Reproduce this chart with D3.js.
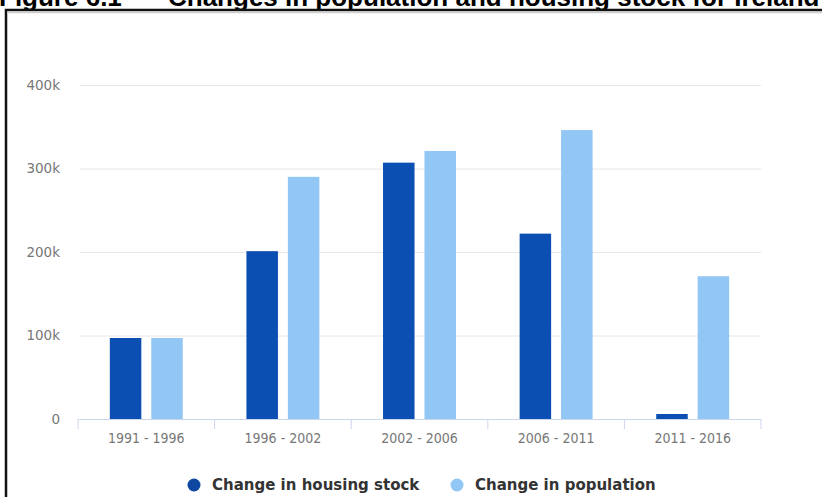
<!DOCTYPE html>
<html>
<head>
<meta charset="utf-8">
<script src="https://cdn.jsdelivr.net/npm/d3@7"></script>
<style>
  body { margin: 0; background: #fff; }
  svg { display: block; }
</style>
</head>
<body>
<svg id="drawing_region"></svg>
<script>
// periods on the x axis
const categories = ['1991 - 1996', '1996 - 2002', '2002 - 2006', '2006 - 2011', '2011 - 2016'];
const series = ['Change in housing stock', 'Change in population'];
// values
const housing = [97000, 201000, 307000, 222000, 6000];
const population = [97000, 290000, 321000, 346000, 171000];
const yticks = [0, 100000, 200000, 300000, 400000];
const yticklabels = ['0', '100k', '200k', '300k', '400k'];
const colors = ['#0b4fb3', '#92c6f4'];

const width = 822, height = 497;
const margin = {top: 85, right: 61, bottom: 78, left: 78};

const svg = d3.select('#drawing_region')
    .attr('width', width)
    .attr('height', height);

// figure title, cut off at the top of the picture
const title = svg.append('g')
    .attr('font-family', 'Liberation Sans, Arial, sans-serif')
    .attr('font-weight', 'bold')
    .attr('font-size', 26)
    .attr('fill', '#000');
title.append('text')
    .attr('x', -1).attr('y', 6)
    .text('Figure 6.1');
title.append('text')
    .attr('x', 168).attr('y', 6)
    .text('Changes in population and housing stock for Ireland');

// frame
svg.append('rect')
    .attr('x', 6).attr('y', 10)
    .attr('width', 840).attr('height', 520)
    .attr('fill', 'none')
    .attr('stroke', '#111')
    .attr('stroke-width', 2.5);
svg.append('line')
    .attr('x1', 7).attr('x2', 822).attr('y1', 12.5).attr('y2', 12.5)
    .attr('stroke', '#cfcfcf').attr('stroke-width', 1.5);

const chart = svg.append('g')
    .attr('transform', `translate(${margin.left}, ${margin.top})`);

const inner_width = width - margin.left - margin.right;
const inner_height = 419 - margin.top;

const xscale = d3.scaleBand()
    .domain(categories)
    .range([0, inner_width]);

const xinner = d3.scaleBand()
    .domain(series)
    .range([xscale.bandwidth() * 0.233, xscale.bandwidth() * 0.767])
    .paddingInner(0.24);

const yscale = d3.scaleLinear()
    .domain([0, 400000])
    .range([inner_height, 0]);

// grid + y labels
const yaxis = d3.axisLeft(yscale)
    .tickValues(yticks)
    .tickFormat((d, i) => yticklabels[i])
    .tickSize(-inner_width)
    .tickPadding(18);

const yaxis_group = chart.append('g').call(yaxis);
yaxis_group.select('.domain').remove();
yaxis_group.selectAll('.tick line')
    .attr('x1', 2)
    .attr('stroke', '#e6e6e6');
yaxis_group.selectAll('.tick text')
    .attr('font-family', 'DejaVu Sans, sans-serif')
    .attr('font-size', 13.5)
    .attr('fill', '#777');

// bars
const groups = chart.selectAll('.grp')
    .data(categories)
    .enter()
    .append('g')
    .attr('transform', d => `translate(${xscale(d)},0)`);

groups.selectAll('rect')
    .data((d, i) => [housing[i], population[i]].map((v, j) => ({s: series[j], v: v, j: j})))
    .enter()
    .append('rect')
    .attr('x', d => xinner(d.s))
    .attr('y', d => yscale(d.v))
    .attr('width', xinner.bandwidth())
    .attr('height', d => inner_height - yscale(d.v))
    .attr('fill', d => colors[d.j]);

// x axis
const xaxis = d3.axisBottom(xscale)
    .tickSize(0)
    .tickPadding(14);

const xaxis_group = chart.append('g')
    .attr('transform', `translate(0, ${inner_height})`)
    .call(xaxis);
xaxis_group.select('.domain')
    .attr('stroke', '#ccd6eb');
xaxis_group.selectAll('.tick text')
    .attr('font-family', 'Liberation Sans Narrow, DejaVu Sans Condensed, sans-serif')
    .attr('font-size', 14)
    .attr('fill', '#777');

// tick marks at band edges
const edges = categories.map(c => xscale(c)).concat([inner_width]);
xaxis_group.selectAll('.edge')
    .data(edges)
    .enter()
    .append('line')
    .attr('x1', d => d).attr('x2', d => d)
    .attr('y1', 0).attr('y2', 10)
    .attr('stroke', '#ccd6eb');

// legend
const legend_x = [194, 457];
const legend = svg.selectAll('.legend')
    .data(series)
    .enter()
    .append('g')
    .attr('transform', (d, i) => `translate(${legend_x[i]}, 485)`);

legend.append('circle')
    .attr('r', 6.5)
    .attr('fill', (d, i) => i == 0 ? '#0d47a1' : colors[1]);

legend.append('text')
    .attr('x', 18)
    .attr('dy', '0.35em')
    .attr('font-family', 'DejaVu Sans, sans-serif')
    .attr('font-weight', 'bold')
    .attr('font-size', 15)
    .attr('fill', '#333')
    .text(d => d);
</script>
</body>
</html>
